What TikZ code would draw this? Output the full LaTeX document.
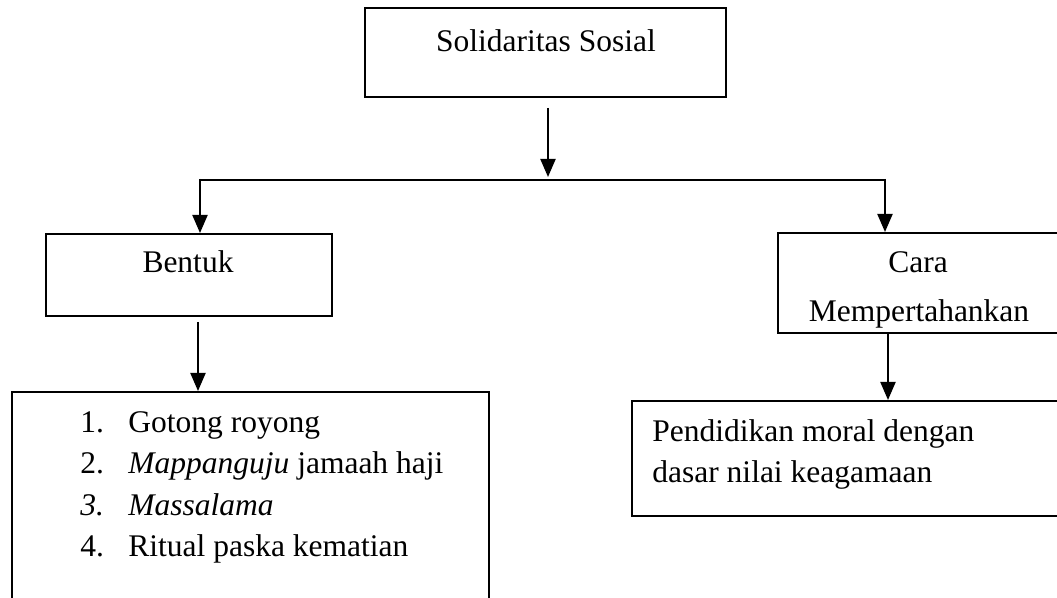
\documentclass[tikz,border=0pt]{standalone}
\usepackage{fontspec}
\setmainfont{Liberation Serif}
\usetikzlibrary{arrows.meta}
\begin{document}
\begin{tikzpicture}[x=0.5pt,y=-0.5pt,
  box/.style={draw, line width=1pt, rectangle, inner sep=0pt},
  txt/.style={inner sep=0pt, font=\fontsize{15.75}{19}\selectfont},
  arr/.style={line width=1pt, -{Triangle[length=9pt,width=7.5pt]}},
  ln/.style={line width=1pt}]
\useasboundingbox (0,0) rectangle (1057,598);
\clip (0,0) rectangle (1057,598);
% boxes
\node[box, minimum width=180.5pt, minimum height=44.5pt] (top) at (545.5,52.5) {};
\node[box, minimum width=143pt, minimum height=41pt] (bentuk) at (189,275) {};
\node[box, minimum width=146pt, minimum height=50pt] (cara) at (924,283) {};
\node[box, minimum width=238.5pt, minimum height=124pt] (list) at (250.5,516) {};
\node[box, minimum width=219pt, minimum height=57.5pt] (pend) at (851,458.5) {};
% texts
\node[txt, anchor=base] (ttop) at (546,52) {Solidaritas Sosial};
\node[txt, anchor=base] (tbentuk) at (188,273) {Bentuk};
\node[txt, anchor=base] (tcara1) at (918,273) {Cara};
\node[txt, anchor=base] (tcara2) at (919,322) {Mempertahankan};
\node[txt, anchor=base west] (n1) at (80,433) {1.};
\node[txt, anchor=base west] (i1) at (128,433) {Gotong royong};
\node[txt, anchor=base west] (n2) at (80,474) {2.};
\node[txt, anchor=base west] (i2) at (128,474) {\textit{Mappanguju} jamaah haji};
\node[txt, anchor=base west] (n3) at (80,516) {\textit{3.}};
\node[txt, anchor=base west] (i3) at (128,516) {\textit{Massalama}};
\node[txt, anchor=base west] (n4) at (80,557) {4.};
\node[txt, anchor=base west] (i4) at (128,557) {Ritual paska kematian};
\node[txt, anchor=base west] (p1) at (652,442) {Pendidikan moral dengan};
\node[txt, anchor=base west] (p2) at (652,483) {dasar nilai keagamaan};
% connectors
\coordinate (s0) at (548,108);
\coordinate (j) at (548,180);
\coordinate (jl) at (200,180);
\coordinate (jr) at (885,180);
\draw[arr] (s0) -- ([yshift=1.5pt]j);
\draw[ln] (jl) -- (jr);
\draw[arr] ([yshift=0.5pt]jl) -- (jl |- bentuk.north);
\draw[arr] ([yshift=0.5pt]jr) -- (jr |- cara.north);
\coordinate (sb) at (198,322);
\draw[arr] (sb) -- (sb |- list.north);
\coordinate (sc) at (888,333);
\draw[arr] (sc |- cara.south) -- (sc |- pend.north);
\end{tikzpicture}
\end{document}
